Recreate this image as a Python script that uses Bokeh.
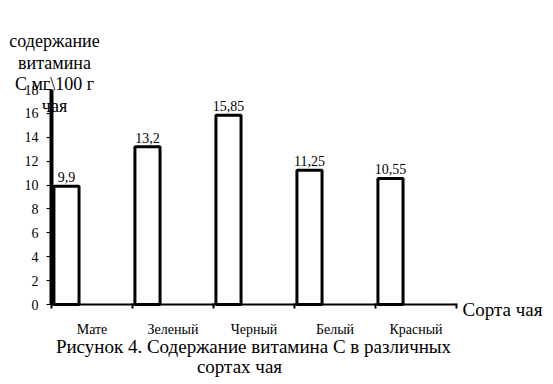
from bokeh.plotting import figure
from bokeh.models import Range1d, FixedTicker, Label, ColumnDataSource
from bokeh.core.properties import value
from bokeh.embed import file_html
from bokeh.resources import INLINE

categories = ["Мате", "Зеленый", "Черный", "Белый", "Красный"]
values = [9.9, 13.2, 15.85, 11.25, 10.55]
value_labels = ["9,9", "13,2", "15,85", "11,25", "10,55"]
y_ticks = [0, 2, 4, 6, 8, 10, 12, 14, 16, 18]
y_title = ["содержание", "витамина", "С мг\\100 г", "чая"]
x_title = "Сорта чая"
caption = ["Рисунок 4. Содержание витамина С в различных", "сортах чая"]

FONT = "'Liberation Serif', 'Times New Roman', serif"
n = len(categories)
y_max = 18

# layout (page pixels): axes origin and extent
W, H = 553, 384
ORIG_X, ORIG_Y = 51, 304      # pixel position of (0, 0)
AX_RIGHT, AX_TOP = 456, 89    # pixel position of (n, y_max)
FL, FB = 7, 6                 # frame left / bottom border
px_x = (AX_RIGHT - ORIG_X) / n
px_y = (ORIG_Y - AX_TOP) / y_max
fw, fh = W - FL, H - FB

x0 = -(ORIG_X - FL) / px_x
x1 = x0 + fw / px_x
y0 = -(fh - ORIG_Y) / px_y
y1 = ORIG_Y / px_y


def dx(page_x):
    return (page_x - ORIG_X) / px_x


def dy(page_y):
    return (ORIG_Y - page_y) / px_y


p = figure(width=W, height=H, frame_width=fw, frame_height=fh,
           min_border_left=FL, min_border_top=0, min_border_right=0, min_border_bottom=FB,
           x_range=Range1d(x0, x1), y_range=Range1d(y0, y1),
           output_backend="svg", toolbar_location=None, tools="")
p.outline_line_color = None
p.xgrid.visible = False
p.ygrid.visible = False

lefts = [i + 0.03 for i in range(n)]
rights = [i + 0.34 for i in range(n)]
centers = [(l + r) / 2 for l, r in zip(lefts, rights)]
src = ColumnDataSource(dict(left=lefts, right=rights, top=values,
                            bottom=[0] * n, cx=centers, lab=value_labels))
p.quad(left="left", right="right", top="top", bottom="bottom", source=src,
       fill_color="white", line_color="black", line_width=3)
p.text(x="cx", y="top", text="lab", source=src, text_align="center",
       text_baseline="alphabetic", y_offset=-9, text_font=value(FONT),
       text_font_size="14px", text_color="black")

# y axis at x = 0 (tick marks only; labels drawn from y_ticks below)
p.yaxis.fixed_location = 0
p.yaxis.bounds = (0, y_max)
p.yaxis.ticker = FixedTicker(ticks=[], minor_ticks=y_ticks)
p.yaxis.axis_line_width = 4
p.yaxis.axis_line_color = "black"
p.yaxis.major_tick_line_color = None
p.yaxis.minor_tick_out = 5
p.yaxis.minor_tick_in = 0
p.yaxis.minor_tick_line_width = 1
p.yaxis.minor_tick_line_color = "black"

yt = ColumnDataSource(dict(x=[0] * len(y_ticks), y=y_ticks, t=[str(v) for v in y_ticks]))
p.text(x="x", y="y", text="t", source=yt, text_align="right", text_baseline="middle",
       x_offset=-13, text_font=value(FONT), text_font_size="14px", text_color="black")

# x axis at y = 0
p.xaxis.fixed_location = 0
p.xaxis.bounds = (0, n)
p.xaxis.ticker = FixedTicker(ticks=[], minor_ticks=list(range(n + 1)))
p.xaxis.axis_line_width = 2
p.xaxis.axis_line_color = "black"
p.xaxis.major_tick_line_color = None
p.xaxis.minor_tick_out = 4
p.xaxis.minor_tick_in = 1
p.xaxis.minor_tick_line_width = 2
p.xaxis.minor_tick_line_color = "black"

xc = ColumnDataSource(dict(x=[i + 0.5 for i in range(n)], y=[0] * n, t=categories))
p.text(x="x", y="y", text="t", source=xc, text_align="center", text_baseline="middle",
       y_offset=25, text_font=value(FONT), text_font_size="14px", text_color="black")

for t, yc in zip(y_title, [40, 62, 83, 105]):
    p.add_layout(Label(x=dx(54), y=dy(yc), text=t, text_align="center",
                       text_baseline="middle", text_font=FONT,
                       text_font_size="18px", text_color="black"))

p.add_layout(Label(x=dx(462), y=dy(309), text=x_title, text_align="left",
                   text_baseline="middle", text_font=FONT,
                   text_font_size="19px", text_color="black"))

for t, xcen, ycen in zip(caption, [253, 239], [346, 366]):
    p.add_layout(Label(x=dx(xcen), y=dy(ycen), text=t, text_align="center",
                       text_baseline="middle", text_font=FONT,
                       text_font_size="19px", text_color="black"))

open("out.html", "w").write(file_html(p, INLINE))
